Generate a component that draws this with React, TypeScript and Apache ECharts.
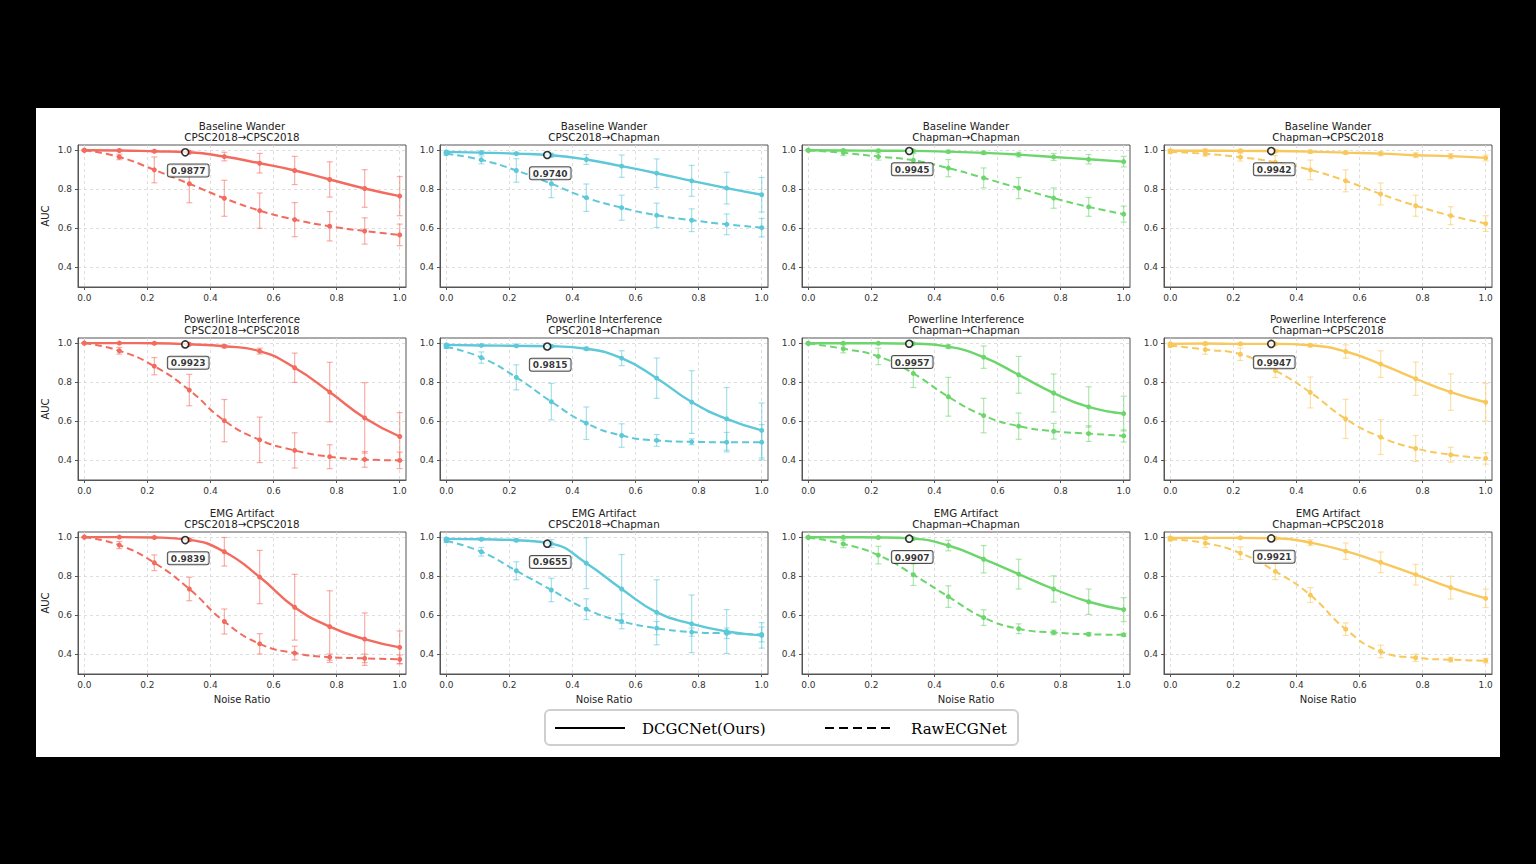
import { useEffect, useRef } from 'react';
import * as echarts from 'echarts';

// x positions of the measured points (noise ratio)
const NOISE_RATIOS = [0, 0.111, 0.222, 0.333, 0.444, 0.556, 0.667, 0.778, 0.889, 1.0];
const ANNOT_X = 0.32;
const X_TICKS = [0, 0.2, 0.4, 0.6, 0.8, 1.0];
const Y_TICKS = [0.4, 0.6, 0.8, 1.0];

const NOISE_TYPES = ['Baseline Wander', 'Powerline Interference', 'EMG Artifact'];
const TRANSFERS = ['CPSC2018→CPSC2018', 'CPSC2018→Chapman', 'Chapman→Chapman', 'Chapman→CPSC2018'];
const COLUMN_COLORS = ['#F26B5E', '#5CC8D8', '#6CD66C', '#F8C85C'];

// Baseline Wander
const bwCcOurs = [0.998, 0.997, 0.993, 0.988, 0.966, 0.932, 0.895, 0.849, 0.803, 0.764];
const bwCcOursErr = [0.003, 0.005, 0.005, 0.007, 0.022, 0.05, 0.072, 0.09, 0.096, 0.1];
const bwCcRaw = [0.998, 0.964, 0.898, 0.827, 0.753, 0.69, 0.644, 0.61, 0.586, 0.566];
const bwCcRawErr = [0.003, 0.014, 0.066, 0.097, 0.092, 0.09, 0.087, 0.075, 0.067, 0.055];

const bwCpOurs = [0.99, 0.986, 0.981, 0.973, 0.951, 0.917, 0.881, 0.842, 0.805, 0.771];
const bwCpOursErr = [0.005, 0.008, 0.006, 0.01, 0.025, 0.057, 0.073, 0.079, 0.081, 0.088];
const bwCpRaw = [0.98, 0.949, 0.895, 0.827, 0.756, 0.705, 0.666, 0.641, 0.62, 0.603];
const bwCpRawErr = [0.006, 0.02, 0.06, 0.071, 0.07, 0.064, 0.062, 0.058, 0.053, 0.047];

const bwPpOurs = [0.998, 0.997, 0.996, 0.995, 0.991, 0.985, 0.976, 0.964, 0.952, 0.94];
const bwPpOursErr = [0.002, 0.004, 0.004, 0.005, 0.006, 0.008, 0.012, 0.018, 0.024, 0.027];
const bwPpRaw = [0.998, 0.985, 0.966, 0.947, 0.907, 0.857, 0.805, 0.754, 0.709, 0.672];
const bwPpRawErr = [0.003, 0.014, 0.018, 0.034, 0.044, 0.051, 0.054, 0.052, 0.048, 0.041];

const bwPcOurs = [0.996, 0.996, 0.995, 0.994, 0.991, 0.986, 0.981, 0.973, 0.968, 0.959];
const bwPcOursErr = [0.006, 0.008, 0.008, 0.008, 0.008, 0.009, 0.01, 0.012, 0.013, 0.015];
const bwPcRaw = [0.99, 0.98, 0.963, 0.937, 0.898, 0.842, 0.775, 0.715, 0.664, 0.624];
const bwPcRawErr = [0.008, 0.012, 0.02, 0.034, 0.05, 0.056, 0.056, 0.054, 0.046, 0.04];

// Powerline Interference
const pliCcOurs = [0.999, 0.999, 0.998, 0.993, 0.983, 0.958, 0.873, 0.749, 0.617, 0.522];
const pliCcOursErr = [0.002, 0.003, 0.003, 0.004, 0.008, 0.015, 0.075, 0.152, 0.18, 0.122];
const pliCcRaw = [0.999, 0.96, 0.881, 0.759, 0.603, 0.505, 0.451, 0.419, 0.405, 0.4];
const pliCcRawErr = [0.002, 0.017, 0.044, 0.08, 0.108, 0.116, 0.09, 0.061, 0.04, 0.042];

const pliCpOurs = [0.99, 0.987, 0.985, 0.983, 0.97, 0.922, 0.82, 0.698, 0.612, 0.553];
const pliCpOursErr = [0.006, 0.005, 0.005, 0.006, 0.008, 0.038, 0.103, 0.16, 0.16, 0.14];
const pliCpRaw = [0.98, 0.925, 0.824, 0.7, 0.59, 0.527, 0.502, 0.495, 0.493, 0.493];
const pliCpRawErr = [0.008, 0.029, 0.064, 0.093, 0.083, 0.06, 0.03, 0.015, 0.05, 0.09];

const pliPpOurs = [0.998, 0.998, 0.998, 0.996, 0.981, 0.927, 0.837, 0.744, 0.673, 0.639];
const pliPpOursErr = [0.002, 0.003, 0.003, 0.004, 0.01, 0.057, 0.094, 0.097, 0.103, 0.089];
const pliPpRaw = [0.997, 0.97, 0.931, 0.844, 0.725, 0.629, 0.575, 0.549, 0.537, 0.525];
const pliPpRawErr = [0.003, 0.021, 0.042, 0.072, 0.099, 0.088, 0.067, 0.04, 0.04, 0.031];

const pliPcOurs = [0.995, 0.997, 0.995, 0.995, 0.988, 0.956, 0.892, 0.817, 0.749, 0.697];
const pliPcOursErr = [0.005, 0.006, 0.005, 0.005, 0.008, 0.034, 0.068, 0.085, 0.093, 0.096];
const pliPcRaw = [0.986, 0.966, 0.942, 0.859, 0.747, 0.612, 0.519, 0.461, 0.429, 0.41];
const pliPcRawErr = [0.008, 0.024, 0.032, 0.036, 0.079, 0.1, 0.089, 0.066, 0.038, 0.029];

// EMG Artifact
const emgCcOurs = [0.999, 0.999, 0.997, 0.985, 0.924, 0.795, 0.641, 0.542, 0.478, 0.436];
const emgCcOursErr = [0.002, 0.003, 0.004, 0.008, 0.073, 0.136, 0.168, 0.183, 0.134, 0.084];
const emgCcRaw = [0.999, 0.958, 0.868, 0.734, 0.568, 0.454, 0.407, 0.386, 0.38, 0.375];
const emgCcRawErr = [0.002, 0.018, 0.04, 0.06, 0.064, 0.052, 0.035, 0.016, 0.022, 0.022];

const emgCpOurs = [0.99, 0.988, 0.983, 0.966, 0.866, 0.734, 0.615, 0.556, 0.517, 0.497];
const emgCpOursErr = [0.006, 0.006, 0.007, 0.02, 0.13, 0.176, 0.166, 0.147, 0.112, 0.065];
const emgCpRaw = [0.98, 0.924, 0.827, 0.729, 0.631, 0.569, 0.534, 0.514, 0.508, 0.502];
const emgCpRawErr = [0.008, 0.022, 0.046, 0.06, 0.053, 0.038, 0.034, 0.021, 0.027, 0.038];

const emgPpOurs = [0.998, 0.998, 0.997, 0.991, 0.956, 0.886, 0.81, 0.734, 0.669, 0.629];
const emgPpOursErr = [0.002, 0.003, 0.004, 0.006, 0.027, 0.07, 0.076, 0.067, 0.065, 0.061];
const emgPpRaw = [0.997, 0.964, 0.907, 0.807, 0.695, 0.588, 0.531, 0.512, 0.503, 0.5];
const emgPpRawErr = [0.003, 0.019, 0.045, 0.055, 0.055, 0.04, 0.025, 0.012, 0.008, 0.008];

const emgPcOurs = [0.995, 0.995, 0.995, 0.993, 0.971, 0.927, 0.87, 0.807, 0.741, 0.686];
const emgPcOursErr = [0.005, 0.006, 0.005, 0.005, 0.015, 0.042, 0.053, 0.053, 0.058, 0.047];
const emgPcRaw = [0.988, 0.968, 0.917, 0.824, 0.703, 0.529, 0.415, 0.383, 0.373, 0.368];
const emgPcRawErr = [0.008, 0.022, 0.032, 0.042, 0.038, 0.032, 0.032, 0.019, 0.012, 0.012];

// annotated value at noise ratio ANNOT_X (row-major)
const ANNOT_VALUES = [
  0.9877, 0.974, 0.9945, 0.9942,
  0.9923, 0.9815, 0.9957, 0.9947,
  0.9839, 0.9655, 0.9907, 0.9921,
];

const PANELS = [
  [bwCcOurs, bwCcOursErr, bwCcRaw, bwCcRawErr],
  [bwCpOurs, bwCpOursErr, bwCpRaw, bwCpRawErr],
  [bwPpOurs, bwPpOursErr, bwPpRaw, bwPpRawErr],
  [bwPcOurs, bwPcOursErr, bwPcRaw, bwPcRawErr],
  [pliCcOurs, pliCcOursErr, pliCcRaw, pliCcRawErr],
  [pliCpOurs, pliCpOursErr, pliCpRaw, pliCpRawErr],
  [pliPpOurs, pliPpOursErr, pliPpRaw, pliPpRawErr],
  [pliPcOurs, pliPcOursErr, pliPcRaw, pliPcRawErr],
  [emgCcOurs, emgCcOursErr, emgCcRaw, emgCcRawErr],
  [emgCpOurs, emgCpOursErr, emgCpRaw, emgCpRawErr],
  [emgPpOurs, emgPpOursErr, emgPpRaw, emgPpRawErr],
  [emgPcOurs, emgPcOursErr, emgPcRaw, emgPcRawErr],
];

// layout (relative to the white panel)
const GRID_LEFTS = [42, 404, 766, 1128];
const GRID_TOPS = [37, 230, 424];
const GRID_W = 328;
const GRID_H = 142;
const FONT = '"DejaVu Sans", sans-serif';
const LEGEND_FONT = '15px "DejaVu Serif", serif';

function errorBars(idx: number, mean: number[], err: number[], color: string) {
  return {
    type: 'custom',
    xAxisIndex: idx,
    yAxisIndex: idx,
    silent: true,
    z: 2,
    data: NOISE_RATIOS.map((x, i) => [x, mean[i] - err[i], mean[i] + err[i]]),
    encode: { x: 0, y: [1, 2] },
    renderItem: (_params: unknown, api: any) => {
      const lo = api.coord([api.value(0), api.value(1)]);
      const hi = api.coord([api.value(0), api.value(2)]);
      const cap = 3;
      const style = { stroke: color, lineWidth: 1.2, opacity: 0.55 };
      return {
        type: 'group',
        children: [
          { type: 'line', shape: { x1: lo[0], y1: lo[1], x2: hi[0], y2: hi[1] }, style },
          { type: 'line', shape: { x1: lo[0] - cap, y1: lo[1], x2: lo[0] + cap, y2: lo[1] }, style },
          { type: 'line', shape: { x1: hi[0] - cap, y1: hi[1], x2: hi[0] + cap, y2: hi[1] }, style },
        ],
      };
    },
  };
}

function lineSeries(idx: number, values: number[], color: string, dashed: boolean) {
  return {
    type: 'line',
    xAxisIndex: idx,
    yAxisIndex: idx,
    data: NOISE_RATIOS.map((x, i) => [x, values[i]]),
    smooth: 0.5,
    symbol: 'circle',
    symbolSize: 5,
    lineStyle: { color, width: dashed ? 2 : 2.4, type: dashed ? [7, 4] : 'solid' },
    itemStyle: { color },
    z: 3,
  };
}

function buildOption() {
  const grid: any[] = [];
  const xAxis: any[] = [];
  const yAxis: any[] = [];
  const title: any[] = [];
  const series: any[] = [];

  PANELS.forEach(([ours, oursErr, raw, rawErr], idx) => {
    const row = Math.floor(idx / 4);
    const col = idx % 4;
    const color = COLUMN_COLORS[col];
    const left = GRID_LEFTS[col];
    const top = GRID_TOPS[row];

    grid.push({
      left,
      top,
      width: GRID_W,
      height: GRID_H,
      show: true,
      backgroundColor: '#fff',
      borderColor: '#555',
      borderWidth: 1,
    });

    xAxis.push({
      gridIndex: idx,
      type: 'value',
      min: -0.02,
      max: 1.02,
      axisLine: { show: true, onZero: false, lineStyle: { color: '#555', width: 1 } },
      axisTick: { show: true, length: 3, customValues: X_TICKS, lineStyle: { color: '#555' } },
      axisLabel: {
        customValues: X_TICKS,
        formatter: (v: number) => v.toFixed(1),
        fontSize: 9,
        color: '#333',
        margin: 6,
        fontFamily: FONT,
      },
      splitLine: { show: true, lineStyle: { type: [3, 3], color: '#d6d6d6', width: 0.8 } },
      name: row === 2 ? 'Noise Ratio' : '',
      nameLocation: 'middle',
      nameGap: 20,
      nameTextStyle: { fontSize: 10, color: '#222', fontFamily: FONT },
    });

    yAxis.push({
      gridIndex: idx,
      type: 'value',
      min: 0.3,
      max: 1.025,
      axisLine: { show: true, onZero: false, lineStyle: { color: '#555', width: 1 } },
      axisTick: { show: true, length: 3, customValues: Y_TICKS, lineStyle: { color: '#555' } },
      axisLabel: {
        customValues: Y_TICKS,
        formatter: (v: number) => v.toFixed(1),
        fontSize: 9,
        color: '#333',
        margin: 6,
        fontFamily: FONT,
      },
      splitLine: { show: true, lineStyle: { type: [3, 3], color: '#d6d6d6', width: 0.8 } },
      name: col === 0 ? 'AUC' : '',
      nameLocation: 'middle',
      nameGap: 28,
      nameRotate: 90,
      nameTextStyle: { fontSize: 10, color: '#222', fontFamily: FONT },
    });

    title.push({
      text: `${NOISE_TYPES[row]}\n${TRANSFERS[col]}`,
      left: left + GRID_W / 2,
      top: top - 25,
      textAlign: 'center',
      padding: 0,
      textStyle: {
        fontSize: 10.3,
        fontWeight: 'normal',
        color: '#222',
        lineHeight: 11,
        fontFamily: FONT,
      },
    });

    series.push(errorBars(idx, ours, oursErr, color));
    series.push(errorBars(idx, raw, rawErr, color));
    series.push(lineSeries(idx, raw, color, true));
    series.push(lineSeries(idx, ours, color, false));
    series.push({
      type: 'scatter',
      xAxisIndex: idx,
      yAxisIndex: idx,
      data: [[ANNOT_X, ANNOT_VALUES[idx]]],
      symbolSize: 7,
      z: 5,
      itemStyle: { color: '#fff', borderColor: '#000', borderWidth: 1.6 },
      label: {
        show: true,
        position: 'bottom',
        distance: 8,
        offset: [3, 0],
        formatter: (p: any) => p.value[1].toFixed(4),
        fontSize: 9,
        fontWeight: 'bold',
        color: '#000',
        fontFamily: FONT,
        backgroundColor: '#fff',
        borderColor: '#222',
        borderWidth: 1,
        borderRadius: 2,
        padding: [2, 3, 1, 3],
      },
    });
  });

  const legend = {
    type: 'group',
    children: [
      {
        type: 'rect',
        shape: { x: 509, y: 602, width: 473, height: 35, r: 5 },
        style: { fill: '#fff', stroke: '#cfcfcf', lineWidth: 2 },
      },
      {
        type: 'line',
        shape: { x1: 519, y1: 620, x2: 589, y2: 620 },
        style: { stroke: '#000', lineWidth: 2 },
      },
      {
        type: 'text',
        x: 606,
        y: 621,
        style: { text: 'DCGCNet(Ours)', fill: '#000', font: LEGEND_FONT, verticalAlign: 'middle' },
      },
      {
        type: 'line',
        shape: { x1: 789, y1: 620, x2: 859, y2: 620 },
        style: { stroke: '#000', lineWidth: 2, lineDash: [9, 5] },
      },
      {
        type: 'text',
        x: 875,
        y: 621,
        style: { text: 'RawECGNet', fill: '#000', font: LEGEND_FONT, verticalAlign: 'middle' },
      },
    ],
  };

  return {
    animation: false,
    backgroundColor: '#fff',
    title,
    grid,
    xAxis,
    yAxis,
    series,
    graphic: [legend],
  };
}

export default function App() {
  const chartRef = useRef<HTMLDivElement>(null);

  useEffect(() => {
    if (!chartRef.current) return;
    const chart = echarts.init(chartRef.current, undefined, { renderer: 'svg' });
    chart.setOption(buildOption() as any);
    return () => {
      chart.dispose();
    };
  }, []);

  return (
    <div style={{ position: 'fixed', left: 0, top: 0, width: 1536, height: 864, background: '#000' }}>
      <div
        ref={chartRef}
        style={{ position: 'absolute', left: 36, top: 108, width: 1464, height: 649, background: '#fff' }}
      />
    </div>
  );
}
